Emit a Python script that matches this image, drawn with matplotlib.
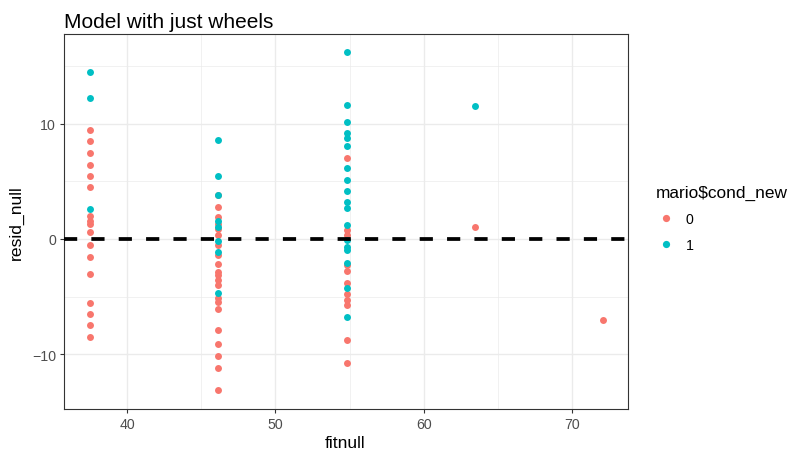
import matplotlib

matplotlib.use("Agg")
import matplotlib.pyplot as plt
from matplotlib.lines import Line2D
from matplotlib.ticker import MultipleLocator

plt.rcParams["font.family"] = ["Liberation Sans", "DejaVu Sans"]
plt.rcParams["lines.scale_dashes"] = False

# fitted values from the null model (one per wheel group)
FIT = [37.53, 46.16, 54.81, 63.45, 72.10]

# residuals by condition (0 = red, 1 = teal), keyed by fitted group
resid_cond0 = {
    0: [9.48, 8.48, 7.48, 6.41, 5.47, 4.47, 2.03, 1.60, 1.32, 0.60, -0.55, -1.55,
        -3.04, -5.50, -6.48, -7.48, -8.51],
    1: [3.83, 2.75, 1.89, 1.32, 0.83, 0.31, -0.55, -1.41, -2.18, -2.84, -3.13,
        -3.56, -3.99, -5.13, -5.42, -6.08, -7.89, -9.09, -10.15, -11.15, -13.10],
    2: [6.99, 0.74, 0.31, -2.27, -2.75, -3.78, -4.79, -5.28, -5.71, -8.77, -10.78],
    3: [1.08],
    4: [-7.05],
}
resid_cond1 = {
    0: [14.45, 12.21, 2.61],
    1: [8.56, 5.42, 3.79, 1.55, 1.00, -0.15, -1.12, -4.70],
    2: [16.17, 11.63, 10.15, 9.20, 8.71, 8.05, 6.19, 5.10, 4.18, 3.18, 2.69, 1.23,
        -0.12, -0.69, -0.98, -2.12, -4.27, -6.79],
    3: [11.55],
    4: [],
}

COLORS = {"0": "#F8766D", "1": "#00BFC4"}


def flatten(groups):
    xs, ys = [], []
    for g, vals in groups.items():
        xs += [FIT[g]] * len(vals)
        ys += vals
    return xs, ys


fig = plt.figure(figsize=(7.97, 4.52), dpi=100)
ax = fig.add_axes([63.5 / 797, 1 - 410 / 452, 564 / 797, 375 / 452])

for cond, groups in [("0", resid_cond0), ("1", resid_cond1)]:
    x, y = flatten(groups)
    ax.scatter(x, y, s=25, color=COLORS[cond], linewidths=0, zorder=3)

ax.axhline(0, color="black", lw=2.7, ls=(0, (9.5, 10.2)), dash_capstyle="butt", zorder=4)

ax.set_xlim(35.72, 73.74)
ax.set_ylim(-14.72, 17.75)
ax.xaxis.set_major_locator(MultipleLocator(10))
ax.xaxis.set_minor_locator(MultipleLocator(5))
ax.yaxis.set_major_locator(MultipleLocator(10))
ax.yaxis.set_minor_locator(MultipleLocator(5))
ax.set_yticks([-10, 0, 10])
ax.set_yticklabels(["\u221210", "0", "10"])
ax.grid(which="major", color="#EBEBEB", lw=1.0, zorder=0)
ax.grid(which="minor", color="#EBEBEB", lw=0.5, zorder=0)
ax.set_axisbelow(True)
ax.tick_params(which="major", length=3, width=0.8, color="#333333",
               labelcolor="#4D4D4D", labelsize=10.2, pad=2.5)
ax.tick_params(which="minor", length=0)
for sp in ax.spines.values():
    sp.set_color("#333333")
    sp.set_linewidth(0.8)

ax.set_xlabel("fitnull", fontsize=12.6, labelpad=3.5)
ax.set_ylabel("resid_null", fontsize=12.6, labelpad=6)
ax.set_title("Model with just wheels", fontsize=15, loc="left", pad=5)

handles = [Line2D([], [], marker="o", ls="", color=COLORS[k], markersize=5.2,
                  markeredgewidth=0) for k in ["0", "1"]]
leg = fig.legend(handles, ["0", "1"], title="mario$cond_new", loc="upper left",
                 bbox_to_anchor=(650 / 797, 1 - 180 / 452), frameon=False,
                 fontsize=10.2, title_fontsize=12.4, handlelength=1.5,
                 handletextpad=0.6, labelspacing=0.85, borderaxespad=0)
leg._legend_box.align = "left"

fig.savefig("out.png", dpi=100)
